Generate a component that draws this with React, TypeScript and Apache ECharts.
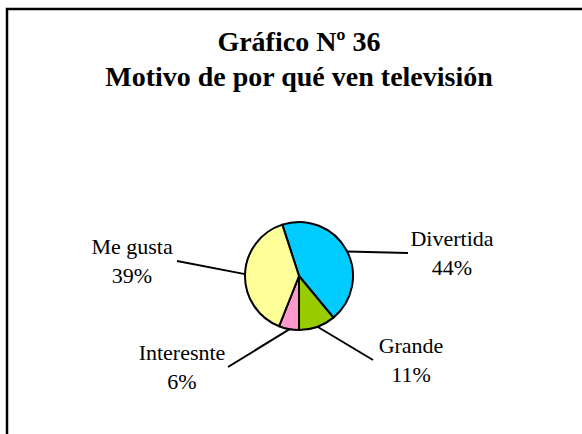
import React, { useEffect, useRef } from "react";
import * as echarts from "echarts";

const categories = ["Divertida", "Grande", "Interesnte", "Me gusta"];
const values = [44, 11, 6, 39];
const colors = ["#00CCFF", "#99CC00", "#FF99CC", "#FFFF99"];
const titleLines = ["Gráfico Nº 36", "Motivo de por qué ven televisión"];

// layout of labels: [labelCenterX, labelCenterY, lineEndX, lineEndY, lineStartAngleDeg]
const labelLayoutCfg = [
  [452, 253, 408, 253, 63],
  [411, 360, 373, 360, 160],
  [182, 367, 228, 367, 190],
  [132, 261, 177, 261, 272],
];
const PIE_CX = 299;
const PIE_CY = 276;
const PIE_R = 54;
const SERIF = "'Times New Roman', 'Liberation Serif', serif";

export default function App() {
  const ref = useRef<HTMLDivElement>(null);
  useEffect(() => {
    if (!ref.current) return;
    const chart = echarts.init(ref.current, null, { renderer: "svg" });
    chart.setOption({
      animation: false,
      backgroundColor: "#ffffff",
      graphic: [
        {
          type: "rect",
          shape: { x: 7, y: 9, width: 700, height: 600 },
          style: { fill: "none", stroke: "#000", lineWidth: 2.5 },
          silent: true,
        },
        ...titleLines.map((t, i) => ({
          type: "text",
          x: 299,
          y: 41.5 + i * 35,
          silent: true,
          style: {
            text: t,
            align: "center",
            verticalAlign: "middle",
            fontFamily: SERIF,
            fontWeight: "bold",
            fontSize: 28,
            fill: "#000",
          },
        })),
      ],
      series: [
        {
          type: "pie",
          center: [PIE_CX, PIE_CY],
          radius: PIE_R,
          startAngle: 108,
          clockwise: true,
          avoidLabelOverlap: false,
          data: categories.map((c, i) => ({
            name: c,
            value: values[i],
            itemStyle: { color: colors[i] },
          })),
          itemStyle: { borderColor: "#000", borderWidth: 2 },
          label: {
            show: true,
            position: "outside",
            formatter: (p: any) => `${p.name}\n${p.value}%`,
            fontFamily: SERIF,
            fontSize: 22,
            lineHeight: 29,
            color: "#000",
          },
          labelLine: {
            show: true,
            lineStyle: { color: "#000", width: 2 },
          },
          labelLayout: (params: any) => {
            const cfg = labelLayoutCfg[params.dataIndex];
            const a = (cfg[4] * Math.PI) / 180;
            const sx = PIE_CX + PIE_R * Math.sin(a);
            const sy = PIE_CY - PIE_R * Math.cos(a);
            return {
              x: cfg[0],
              y: cfg[1],
              align: "center",
              verticalAlign: "middle",
              labelLinePoints: [
                [sx, sy],
                [cfg[2], cfg[3]],
                [cfg[2], cfg[3]],
              ],
            };
          },
          emphasis: { disabled: true },
        },
      ],
    });
    return () => chart.dispose();
  }, []);
  return (
    <div
      ref={ref}
      style={{ position: "fixed", left: 0, top: 0, width: 582, height: 434, background: "#fff" }}
    />
  );
}
